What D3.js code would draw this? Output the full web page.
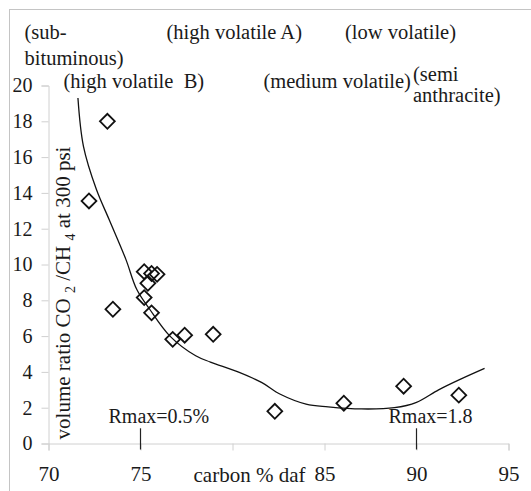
<!DOCTYPE html>
<html>
<head>
<meta charset="utf-8">
<script src="https://cdn.jsdelivr.net/npm/d3@7/dist/d3.min.js"></script>
<style>
  body { margin: 0; background: #fff; }
  text { font-family: "Liberation Serif", "Times New Roman", serif; fill: #1a1a1a; }
</style>
</head>
<body>
<svg id="chart" width="531" height="491"></svg>
<script>
// Measured samples: carbon content (% daf) and CO2/CH4 sorption ratio at 300 psi
const carbon = [72.2, 73.2, 73.5, 75.2, 75.6, 75.9, 75.4, 75.2, 75.6, 76.75, 77.4, 78.95, 82.3, 86.05, 89.3, 92.3];
const ratio  = [13.55, 18.0, 7.5, 9.6, 9.5, 9.45, 8.95, 8.15, 7.3, 5.82, 6.05, 6.1, 1.8, 2.25, 3.2, 2.7];

// Fitted trend line
const trendCarbon = [71.6, 71.9, 72.6, 73.3, 74.2, 74.8, 75.5, 76.6, 78.0, 78.8, 80.3, 81.6, 82.6, 84.0, 85.2, 87.0, 88.8, 90.0, 91.2, 92.4, 93.7];
const trendRatio  = [19.3, 16.6, 14.2, 12.5, 10.3, 8.6, 7.5, 6.0, 4.9, 4.55, 4.0, 3.4, 2.75, 2.2, 2.05, 1.93, 2.0, 2.3, 3.0, 3.6, 4.2];

// Axes
const xTicks = [70, 75, 80, 85, 90, 95];
const xTickLabels = ["70", "75", "", "85", "90", "95"];
const yTicks = [0, 2, 4, 6, 8, 10, 12, 14, 16, 18, 20];
const xTitle = "carbon % daf";

// Vitrinite reflectance markers
const rmaxCarbon = [75, 90];
const rmaxLabels = ["Rmax=0.5%", "Rmax=1.8"];

// Coal rank names
const rankLabels = ["(sub-", "bituminous)", "(high volatile A)", "(low volatile)",
                    "(high volatile  B)", "(medium volatile)", "(semi", "anthracite)"];

const svg = d3.select("#chart");

const x = d3.scaleLinear().domain([70, 95]).range([48.5, 508.5]);
const y = d3.scaleLinear().domain([0, 20]).range([443.5, 85.5]);

// outer frame
svg.append("rect")
  .attr("x", 9.5).attr("y", 9.5).attr("width", 560).attr("height", 520)
  .attr("fill", "none").attr("stroke", "#c4c4c4").attr("stroke-width", 1);

// y axis
const yAxis = svg.append("g")
  .attr("transform", `translate(${x(70)},0)`)
  .call(d3.axisLeft(y).tickValues(yTicks).tickSize(7).tickPadding(9).tickFormat(d3.format("d")));
yAxis.select(".domain").attr("stroke", "#d0d0d0");
yAxis.selectAll(".tick line").attr("stroke", "#d0d0d0");
yAxis.selectAll(".tick text").attr("font-size", 20);

// x axis
const xAxis = svg.append("g")
  .attr("transform", `translate(0,${y(0)})`)
  .call(d3.axisBottom(x).tickValues(xTicks).tickSize(7).tickPadding(16)
        .tickFormat((d, i) => xTickLabels[i]));
xAxis.select(".domain").attr("stroke", "#d0d0d0");
xAxis.selectAll(".tick line").attr("stroke", "#d0d0d0");
xAxis.selectAll(".tick text").attr("font-size", 21);

svg.append("text")
  .attr("x", 193.5).attr("y", 482)
  .attr("font-size", 21)
  .text(xTitle);

// y axis title with subscripts
const yTitle = svg.append("text")
  .attr("transform", `translate(70,293) rotate(-90)`)
  .attr("text-anchor", "middle")
  .attr("font-size", 21);
yTitle.append("tspan").text("volume ratio CO ");
yTitle.append("tspan").attr("font-size", 14).attr("dy", 5).text("2");
yTitle.append("tspan").attr("dy", -5).text(" /CH ");
yTitle.append("tspan").attr("font-size", 14).attr("dy", 5).text("4");
yTitle.append("tspan").attr("dy", -5).text(" at 300 psi");

// Rmax markers
const rmax = svg.append("g");
rmaxCarbon.forEach(c => {
  rmax.append("line")
    .attr("x1", x(c)).attr("x2", x(c))
    .attr("y1", y(0.85)).attr("y2", y(0) + 6)
    .attr("stroke", "#222").attr("stroke-width", 1.2);
});
rmax.append("text").attr("x", 108.5).attr("y", 423).attr("font-size", 20).text(rmaxLabels[0]);
rmax.append("text").attr("x", 388.5).attr("y", 423).attr("font-size", 20).text(rmaxLabels[1]);

// rank names
const rankPos = [
  [24.5, 38.5], [24.5, 65], [166.5, 38.5], [345, 38.5],
  [63.5, 88], [263.5, 88], [413, 81], [413, 102]
];
svg.append("g").selectAll("text")
  .data(rankLabels)
  .join("text")
  .attr("x", (d, i) => rankPos[i][0])
  .attr("y", (d, i) => rankPos[i][1])
  .attr("font-size", 20.5)
  .style("white-space", "pre")
  .text(d => d);

// trend curve
const trend = trendCarbon.map((c, i) => [c, trendRatio[i]]);
svg.append("path")
  .datum(trend)
  .attr("fill", "none")
  .attr("stroke", "#111")
  .attr("stroke-width", 1.3)
  .attr("d", d3.line().x(d => x(d[0])).y(d => y(d[1])).curve(d3.curveCatmullRom.alpha(0.5)));

// data points as open diamonds
const pts = carbon.map((c, i) => [c, ratio[i]]);
svg.append("g").selectAll("path")
  .data(pts)
  .join("path")
  .attr("transform", d => `translate(${x(d[0])},${y(d[1])}) rotate(45)`)
  .attr("d", d3.symbol(d3.symbolSquare, 110))
  .attr("fill", "none")
  .attr("stroke", "#111")
  .attr("stroke-width", 1.8);
</script>
</body>
</html>
